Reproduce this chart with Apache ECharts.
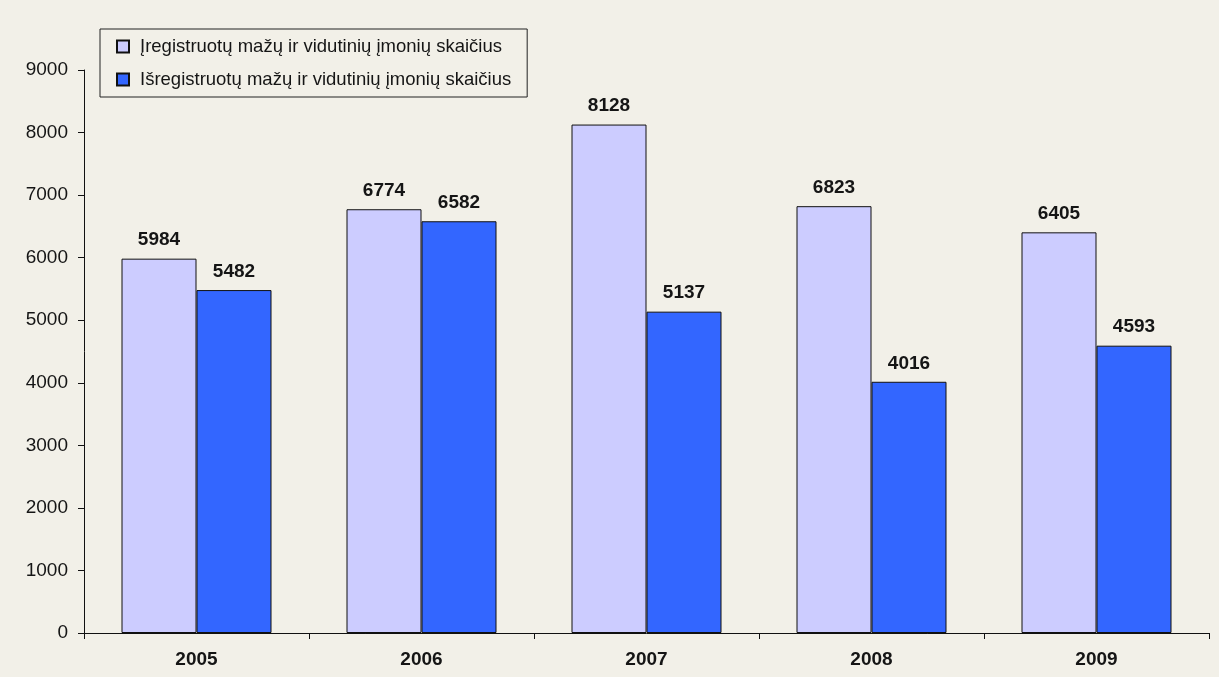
<!DOCTYPE html>
<html>
<head>
<meta charset="utf-8">
<script src="https://cdn.jsdelivr.net/npm/echarts@6/dist/echarts.min.js"></script>
<style>
  html, body { margin: 0; padding: 0; background: #f2f0e8; }
  #chart { width: 1219px; height: 677px; }
</style>
</head>
<body>
<div id="chart"></div>
<script>
// Small and medium enterprises registered / deregistered per year
const years = ['2005', '2006', '2007', '2008', '2009'];
const registered = [5984, 6774, 8128, 6823, 6405];
const deregistered = [5482, 6582, 5137, 4016, 4593];
const seriesNames = [
  'Įregistruotų mažų ir vidutinių įmonių skaičius',
  'Išregistruotų mažų ir vidutinių įmonių skaičius'
];

const font = 'Liberation Sans, Arial, sans-serif';
const chart = echarts.init(document.getElementById('chart'));

const labelStyle = {
  show: true,
  position: 'top',
  distance: 9,
  fontFamily: font,
  fontSize: 19,
  fontWeight: 'bold',
  color: '#151515'
};

chart.setOption({
  backgroundColor: '#f2f0e8',
  animation: false,
  grid: { left: 84, right: 10, top: 70, bottom: 44 },
  legend: {
    left: 100,
    top: 29,
    orient: 'vertical',
    itemWidth: 12,
    itemHeight: 12,
    itemGap: 14,
    padding: [8, 16, 8, 16],
    borderColor: '#222',
    borderWidth: 1,
    icon: 'rect',
    textStyle: { fontFamily: font, fontSize: 18.5, color: '#151515', padding: [0, 0, 0, 6] },
    data: seriesNames
  },
  xAxis: {
    type: 'category',
    data: years,
    axisLine: { lineStyle: { color: '#111', width: 1 } },
    axisTick: { show: true, length: 6, lineStyle: { color: '#111' } },
    axisLabel: { fontFamily: font, fontSize: 19, fontWeight: 'bold', color: '#151515', margin: 17 }
  },
  yAxis: {
    type: 'value',
    min: 0,
    max: 9000,
    interval: 1000,
    axisLine: { show: true, lineStyle: { color: '#111' } },
    axisTick: { show: true, length: 6, lineStyle: { color: '#111' } },
    splitLine: { show: false },
    axisLabel: {
      fontFamily: font,
      fontSize: 19,
      color: '#151515',
      margin: 16,
      formatter: (v) => String(v)
    }
  },
  series: [
    {
      name: seriesNames[0],
      type: 'bar',
      data: registered,
      barWidth: 75,
      barGap: '0%',
      itemStyle: { color: '#ccccff', borderColor: '#111', borderWidth: 1 },
      label: labelStyle
    },
    {
      name: seriesNames[1],
      type: 'bar',
      data: deregistered,
      barWidth: 75,
      barGap: '0%',
      itemStyle: { color: '#3366ff', borderColor: '#111', borderWidth: 1 },
      label: labelStyle
    }
  ]
});
</script>
</body>
</html>
